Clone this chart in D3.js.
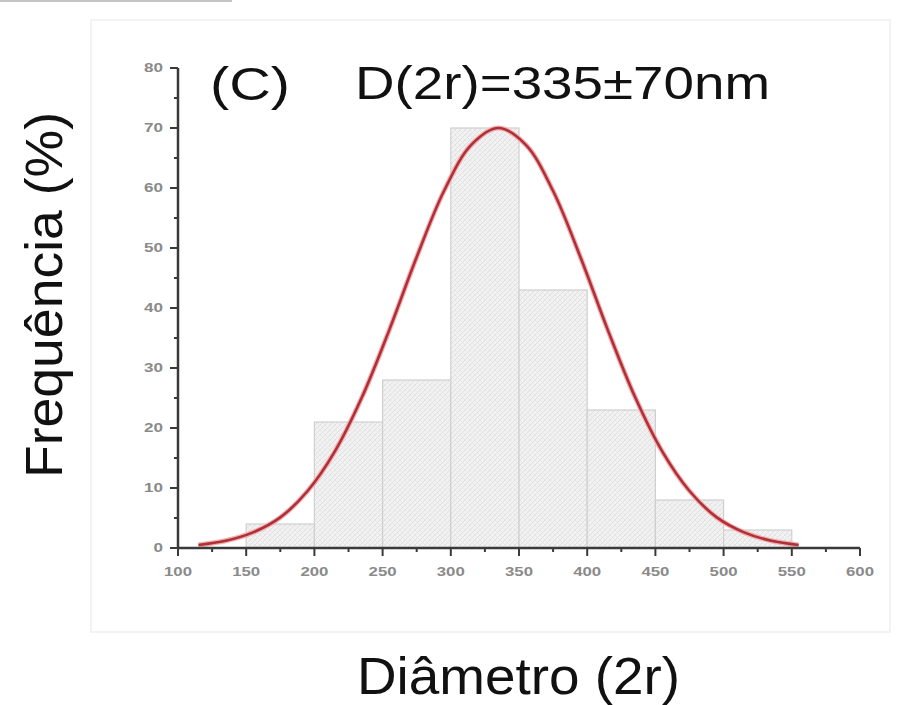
<!DOCTYPE html>
<html>
<head>
<meta charset="utf-8">
<script src="https://cdn.jsdelivr.net/npm/d3@7"></script>
<style>
	body { margin: 0; background: #fff; }
	svg { display: block; font-family: Arial, "Liberation Sans", sans-serif; }
</style>
</head>
<body>
<svg width="902" height="705"></svg>
<script>
// histogram bins (nm) and frequency (%)
var binStarts = [150, 200, 250, 300, 350, 400, 450, 500];
var binWidth = 50;
var frequencies = [4, 21, 28, 70, 43, 23, 8, 3];

// fitted curve
var curveX = [115, 135, 155, 175, 195, 215, 235, 255, 275, 295, 315, 335, 355, 375, 395, 415, 435, 455, 475, 495, 515, 535, 555];
var curveY = [0.5, 1.2, 2.6, 5.1, 9.5, 16.1, 25.2, 36.4, 48.5, 59.5, 67.2, 70, 67.2, 59.5, 48.5, 36.4, 25.2, 16.1, 9.5, 5.1, 2.6, 1.2, 0.5];

var xTicks = [100, 150, 200, 250, 300, 350, 400, 450, 500, 550, 600];
var yTicks = [0, 10, 20, 30, 40, 50, 60, 70, 80];

var svg = d3.select("svg");

var x = d3.scaleLinear().domain([100, 600]).range([178, 860]);
var y = d3.scaleLinear().domain([0, 80]).range([548, 68]);

// faint page frame + scan artifact at the top
svg.append("rect")
	.attr("x", 91).attr("y", 20)
	.attr("width", 799).attr("height", 612)
	.attr("fill", "none")
	.attr("stroke", "#f3f3f3")
	.attr("stroke-width", 2);

svg.append("line")
	.attr("x1", 0).attr("x2", 232)
	.attr("y1", 1).attr("y2", 1)
	.attr("stroke", "#c4c4c4")
	.attr("stroke-width", 2);

// hatch pattern for the bars
var defs = svg.append("defs");
var pat = defs.append("pattern")
	.attr("id", "hatch")
	.attr("patternUnits", "userSpaceOnUse")
	.attr("width", 5).attr("height", 5);
pat.append("rect").attr("width", 5).attr("height", 5).attr("fill", "#f2f2f2");
pat.append("path")
	.attr("d", "M0,5L5,0M-1,1L1,-1M4,6L6,4")
	.attr("stroke", "#dadada")
	.attr("stroke-width", 0.8);
pat.append("path")
	.attr("d", "M0,0L5,5M4,-1L6,1M-1,4L1,6")
	.attr("stroke", "#e2e2e2")
	.attr("stroke-width", 0.6);

var bins = binStarts.map(function(b, i) { return { x0: b, x1: b + binWidth, v: frequencies[i] }; });

svg.append("g").selectAll("rect")
	.data(bins)
	.enter().append("rect")
		.attr("x", function(d) { return x(d.x0); })
		.attr("y", function(d) { return y(d.v); })
		.attr("width", function(d) { return x(d.x1) - x(d.x0); })
		.attr("height", function(d) { return y(0) - y(d.v); })
		.attr("fill", "url(#hatch)")
		.attr("stroke", "#cfcfcf")
		.attr("stroke-width", 1.2);

// gaussian fit line
var pts = curveX.map(function(v, i) { return [v, curveY[i]]; });
var line = d3.line()
	.x(function(d) { return x(d[0]); })
	.y(function(d) { return y(d[1]); })
	.curve(d3.curveCatmullRom);

svg.append("path")
	.datum(pts)
	.attr("d", line)
	.attr("fill", "none")
	.attr("stroke", "#f0b0b0")
	.attr("stroke-width", 5);

svg.append("path")
	.datum(pts)
	.attr("d", line)
	.attr("fill", "none")
	.attr("stroke", "#b02f38")
	.attr("stroke-width", 2.6);

// axes (Origin style: outward major + minor ticks)
var AXIS_COLOR = "#3a3a3a";

var yAxis = svg.append("g").attr("transform", "translate(" + x(100) + ",0)");
yAxis.append("line")
	.attr("y1", y(0) + 1).attr("y2", y(80))
	.attr("stroke", AXIS_COLOR).attr("stroke-width", 2.5);
yTicks.forEach(function(t) {
	yAxis.append("line")
		.attr("x1", -8).attr("x2", 0)
		.attr("y1", y(t)).attr("y2", y(t))
		.attr("stroke", AXIS_COLOR).attr("stroke-width", 2);
	if (t < 80) {
		yAxis.append("line")
			.attr("x1", -4).attr("x2", 0)
			.attr("y1", y(t + 5)).attr("y2", y(t + 5))
			.attr("stroke", AXIS_COLOR).attr("stroke-width", 2);
	}
	yAxis.append("text")
		.attr("x", -15).attr("y", y(t))
		.attr("dy", "0.36em")
		.attr("text-anchor", "end")
		.attr("font-size", 12)
		.attr("font-weight", "bold")
		.attr("fill", "#8a8a8a")
		.attr("textLength", String(t).length * 9.5)
		.attr("lengthAdjust", "spacingAndGlyphs")
		.text(t);
});

var xAxis = svg.append("g").attr("transform", "translate(0," + y(0) + ")");
xAxis.append("line")
	.attr("x1", x(100) - 1).attr("x2", x(600))
	.attr("stroke", AXIS_COLOR).attr("stroke-width", 2.5);
xTicks.forEach(function(t) {
	xAxis.append("line")
		.attr("x1", x(t)).attr("x2", x(t))
		.attr("y1", 0).attr("y2", 8)
		.attr("stroke", AXIS_COLOR).attr("stroke-width", 2);
	if (t < 600) {
		xAxis.append("line")
			.attr("x1", x(t + 25)).attr("x2", x(t + 25))
			.attr("y1", 0).attr("y2", 4)
			.attr("stroke", AXIS_COLOR).attr("stroke-width", 2);
	}
	xAxis.append("text")
		.attr("x", x(t)).attr("y", 28)
		.attr("text-anchor", "middle")
		.attr("font-size", 12)
		.attr("font-weight", "bold")
		.attr("fill", "#8a8a8a")
		.attr("textLength", 28)
		.attr("lengthAdjust", "spacingAndGlyphs")
		.text(t);
});

// labels
svg.append("text")
	.attr("x", 210).attr("y", 100)
	.attr("font-size", 46)
	.attr("fill", "#111")
	.attr("textLength", 80)
	.attr("lengthAdjust", "spacingAndGlyphs")
	.text("(C)");

svg.append("text")
	.attr("x", 355).attr("y", 99)
	.attr("font-size", 46)
	.attr("fill", "#111")
	.attr("textLength", 415)
	.attr("lengthAdjust", "spacingAndGlyphs")
	.text("D(2r)=335\u00b170nm");

svg.append("text")
	.attr("x", 357).attr("y", 694)
	.attr("font-size", 52)
	.attr("fill", "#111")
	.attr("textLength", 323)
	.attr("lengthAdjust", "spacingAndGlyphs")
	.text("Diâmetro (2r)");

svg.append("text")
	.attr("transform", "translate(62,478) rotate(-90)")
	.attr("font-size", 52)
	.attr("fill", "#111")
	.attr("textLength", 366)
	.attr("lengthAdjust", "spacingAndGlyphs")
	.text("Frequência  (%)");
</script>
</body>
</html>
